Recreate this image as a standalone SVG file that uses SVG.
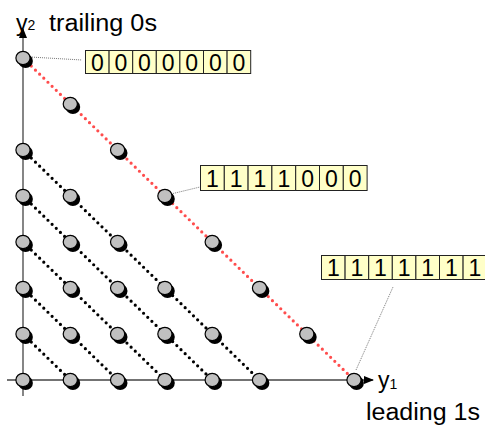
<svg xmlns="http://www.w3.org/2000/svg" width="485" height="431" viewBox="0 0 485 431">
<style>
text{font-family:"Liberation Sans",Arial,sans-serif;fill:#000}
.lbl{font-size:23px}
.sub{font-size:14px}
.dig{font-size:23px;text-anchor:middle}
.cell{fill:#ffffc8;stroke:#222;stroke-width:1}
.axis{stroke:#444;stroke-width:1.3;fill:none}
.dk{stroke:#000;stroke-width:3.2;stroke-linecap:round;stroke-dasharray:0 5.8;fill:none}
.rd{stroke:#ff4d4d;stroke-width:3.2;stroke-linecap:round;stroke-dasharray:0 5.8;fill:none}
.lead{stroke:#777;stroke-width:1;stroke-dasharray:1 1;fill:none}
.sh{fill:#000}
.pt{fill:#c0c0c0;stroke:#000;stroke-width:1.2}
</style>
<defs>
<marker id="ah" markerWidth="10" markerHeight="8" refX="9" refY="4" orient="auto" markerUnits="userSpaceOnUse">
<path d="M0,0 L10,4 L0,8 z" fill="#000"/>
</marker>
<g id="p"><ellipse class="sh" cx="2.6" cy="3" rx="7.3" ry="6.9"/><ellipse class="pt" cx="0" cy="0" rx="7.1" ry="6.7"/></g>
</defs>
<g id="connectors">
<line class="axis" x1="23" y1="396" x2="23" y2="29" marker-end="url(#ah)"/>
<line class="axis" x1="7" y1="380" x2="373" y2="380" marker-end="url(#ah)"/>
<line class="dk" x1="23" y1="334" x2="70.3" y2="380"/>
<line class="dk" x1="23" y1="288" x2="117.6" y2="380"/>
<line class="dk" x1="23" y1="242" x2="164.9" y2="380"/>
<line class="dk" x1="23" y1="196" x2="212.2" y2="380"/>
<line class="dk" x1="23" y1="150" x2="259.5" y2="380"/>
<line class="rd" x1="23" y1="58" x2="354" y2="380"/>
<line class="lead" x1="30" y1="57" x2="82" y2="60"/>
<line class="lead" x1="171" y1="194" x2="200" y2="187"/>
<line class="lead" x1="356" y1="370" x2="393" y2="287"/>
</g>
<g id="points">
<use href="#p" x="23" y="58"/>
<use href="#p" x="70.3" y="104"/>
<use href="#p" x="117.6" y="150"/>
<use href="#p" x="164.9" y="196"/>
<use href="#p" x="212.2" y="242"/>
<use href="#p" x="259.5" y="288"/>
<use href="#p" x="306.8" y="334"/>
<use href="#p" x="354" y="380"/>
<use href="#p" x="23" y="150"/>
<use href="#p" x="70.3" y="196"/>
<use href="#p" x="117.6" y="242"/>
<use href="#p" x="164.9" y="288"/>
<use href="#p" x="212.2" y="334"/>
<use href="#p" x="259.5" y="380"/>
<use href="#p" x="23" y="196"/>
<use href="#p" x="70.3" y="242"/>
<use href="#p" x="117.6" y="288"/>
<use href="#p" x="164.9" y="334"/>
<use href="#p" x="212.2" y="380"/>
<use href="#p" x="23" y="242"/>
<use href="#p" x="70.3" y="288"/>
<use href="#p" x="117.6" y="334"/>
<use href="#p" x="164.9" y="380"/>
<use href="#p" x="23" y="288"/>
<use href="#p" x="70.3" y="334"/>
<use href="#p" x="117.6" y="380"/>
<use href="#p" x="23" y="334"/>
<use href="#p" x="70.3" y="380"/>
<use href="#p" x="23" y="380"/>
</g>
<g id="labels">
<text class="lbl" x="16" y="31">y<tspan class="sub" dy="-1">2</tspan></text>
<text class="lbl" x="49" y="31" textLength="108" lengthAdjust="spacingAndGlyphs">trailing 0s</text>
<text class="lbl" x="378" y="388">y<tspan class="sub" dy="1">1</tspan></text>
<text class="lbl" x="366" y="420" textLength="114" lengthAdjust="spacingAndGlyphs">leading 1s</text>
</g>
<g id="box1">
<rect class="cell" x="85.5" y="50.5" width="23.6" height="23"/><rect class="cell" x="109.1" y="50.5" width="23.6" height="23"/><rect class="cell" x="132.7" y="50.5" width="23.6" height="23"/><rect class="cell" x="156.3" y="50.5" width="23.6" height="23"/><rect class="cell" x="179.9" y="50.5" width="23.6" height="23"/><rect class="cell" x="203.5" y="50.5" width="23.6" height="23"/><rect class="cell" x="227.1" y="50.5" width="23.6" height="23"/>
<text class="dig" x="97.3" y="71">0</text><text class="dig" x="120.9" y="71">0</text><text class="dig" x="144.5" y="71">0</text><text class="dig" x="168.1" y="71">0</text><text class="dig" x="191.7" y="71">0</text><text class="dig" x="215.3" y="71">0</text><text class="dig" x="238.9" y="71">0</text>
</g>
<g id="box2">
<rect class="cell" x="200.5" y="165.5" width="23.8" height="25"/><rect class="cell" x="224.3" y="165.5" width="23.8" height="25"/><rect class="cell" x="248.1" y="165.5" width="23.8" height="25"/><rect class="cell" x="271.9" y="165.5" width="23.8" height="25"/><rect class="cell" x="295.7" y="165.5" width="23.8" height="25"/><rect class="cell" x="319.5" y="165.5" width="23.8" height="25"/><rect class="cell" x="343.3" y="165.5" width="23.8" height="25"/>
<text class="dig" x="212.4" y="187">1</text><text class="dig" x="236.2" y="187">1</text><text class="dig" x="260" y="187">1</text><text class="dig" x="283.8" y="187">1</text><text class="dig" x="307.6" y="187">0</text><text class="dig" x="331.4" y="187">0</text><text class="dig" x="355.2" y="187">0</text>
</g>
<g id="box3">
<rect class="cell" x="321.5" y="255.5" width="23.6" height="24"/><rect class="cell" x="345.1" y="255.5" width="23.6" height="24"/><rect class="cell" x="368.7" y="255.5" width="23.6" height="24"/><rect class="cell" x="392.3" y="255.5" width="23.6" height="24"/><rect class="cell" x="415.9" y="255.5" width="23.6" height="24"/><rect class="cell" x="439.5" y="255.5" width="23.6" height="24"/><rect class="cell" x="463.1" y="255.5" width="23.6" height="24"/>
<text class="dig" x="333.3" y="276">1</text><text class="dig" x="356.9" y="276">1</text><text class="dig" x="380.5" y="276">1</text><text class="dig" x="404.1" y="276">1</text><text class="dig" x="427.7" y="276">1</text><text class="dig" x="451.3" y="276">1</text><text class="dig" x="474.9" y="276">1</text>
</g>
</svg>
